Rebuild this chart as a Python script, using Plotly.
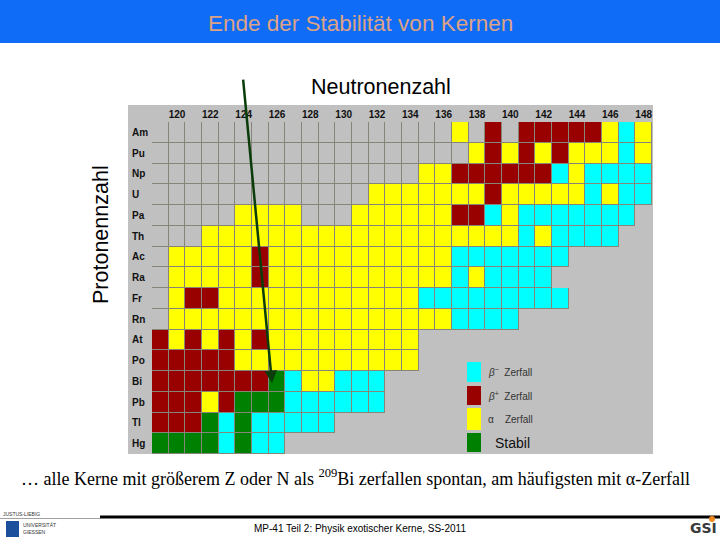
import numpy as np
import plotly.graph_objects as go

# ---------------- data ----------------
N_values = list(range(119, 149))          # neutron numbers (columns)
N_tick_vals = list(range(120, 149, 2))    # labelled neutron numbers
elements = ["Am", "Pu", "Np", "U", "Pa", "Th", "Ac", "Ra",
            "Fr", "Rn", "At", "Po", "Bi", "Pb", "Tl", "Hg"]
Z_values = list(range(95, 79, -1))        # proton numbers (rows, top -> bottom)

# decay mode per nuclide, one char per N = 119..148
# G = grey (no data), C = beta-minus, R = beta-plus, Y = alpha, S = stable, . = none
row_Am = "GGGGGGGGGGGGGGGGGGYGRGRRRRRYCY"
row_Pu = "GGGGGGGGGGGGGGGGGGGYRYRYRYYYCY"
row_Np = "GGGGGGGGGGGGGGGGYYRRRRRRCYCCCC"
row_U  = "GGGGGGGGGGGGGYYYYYYYRYYYYYCYCC"
row_Pa = "GGGGGYYYYGGGYYYYYYRRCYCCCCCCC."
row_Th = "GGGYYYYYYYYYYYYYYYYYYYCYCCCC.."
row_Ac = "GYYYYYRYYYYYYYYYYYCCCCCCC....."
row_Ra = "GYYYYYRYYYYYYYYYYYCYCCCC......"
row_Fr = "GYRRYYYYYYYYYYYYCCCCCCCCC....."
row_Rn = "GYYYYYYYYYYYYYYYYYCCCC........"
row_At = "RYRYRYRYYYYYYYYY.............."
row_Po = "RRRRRYYYYYYYYYYY.............."
row_Bi = "RRRRRRRSCYYCCC................"
row_Pb = "RRRYRSSSCCCCCC................"
row_Tl = "RRRSCSCCCCC..................."
row_Hg = "SSSSCSCC......................"

rows = [row_Am, row_Pu, row_Np, row_U, row_Pa, row_Th, row_Ac, row_Ra,
        row_Fr, row_Rn, row_At, row_Po, row_Bi, row_Pb, row_Tl, row_Hg]

mode_codes = {"G": 0, "C": 1, "R": 2, "Y": 3, "S": 4, ".": np.nan}
legend_labels = ["<i>β</i><sup>−</sup>  Zerfall", "<i>β</i><sup>+</sup>  Zerfall",
                 "α    Zerfall", "Stabil"]

# ---------------- styling ----------------
GREY = "#c0c0c0"
CYAN = "#00ffff"
RED = "#990000"
YELLOW = "#ffff00"
GREEN = "#008000"
LINE = "#85857a"

z = np.array([[mode_codes[c] for c in r] for r in rows], dtype=float)
under = np.where(np.isnan(z), np.nan, 1.0)

colorscale = [[0, GREY], [0.125, GREY], [0.125, CYAN], [0.375, CYAN],
              [0.375, RED], [0.625, RED], [0.625, YELLOW], [0.875, YELLOW],
              [0.875, GREEN], [1, GREEN]]

fig = go.Figure()
fig.add_trace(go.Heatmap(x=N_values, y=Z_values, z=under, zmin=0, zmax=1,
                         colorscale=[[0, LINE], [1, LINE]], showscale=False,
                         hoverinfo="skip"))
fig.add_trace(go.Heatmap(x=N_values, y=Z_values, z=z, zmin=0, zmax=4,
                         colorscale=colorscale, showscale=False,
                         xgap=1, ygap=1, hoverinfo="skip"))

W, H = 720, 540
L, R, T, B = 152, 68, 122, 86
PW, PH = W - L - R, H - T - B


def px(x):
    return (x - L) / PW


def py(y):
    return (H - B - y) / PH


shapes = []
# grey panel behind grid and labels
shapes.append(dict(type="rect", xref="paper", yref="paper", x0=px(128), x1=px(653),
                   y0=py(454), y1=py(105), fillcolor=GREY, line_width=0, layer="below"))
# blue title band
shapes.append(dict(type="rect", xref="paper", yref="paper", x0=px(0), x1=px(720),
                   y0=py(43), y1=py(0), fillcolor="#0f6cf7", line_width=0, layer="below"))
# footer lines
shapes.append(dict(type="line", xref="paper", yref="paper", x0=px(100), x1=px(720),
                   y0=py(517), y1=py(517), line=dict(color="black", width=3)))
shapes.append(dict(type="line", xref="paper", yref="paper", x0=px(0), x1=px(100),
                   y0=py(518.5), y1=py(518.5), line=dict(color="#a0a0a0", width=1)))
# university shield
shapes.append(dict(type="rect", xref="paper", yref="paper", x0=px(6), x1=px(19),
                   y0=py(537), y1=py(521), fillcolor="#1b4f9c", line_width=0))
# GSI dot
shapes.append(dict(type="circle", xref="paper", yref="paper", x0=px(709), x1=px(715),
                   y0=py(522), y1=py(516), fillcolor="#f08a1c", line_width=0))

# legend squares
legend_colors = [CYAN, RED, YELLOW, GREEN]
legend_boxes = [(362, 382), (386, 405), (408, 430), (433, 452)]
for col, (y0, y1) in zip(legend_colors, legend_boxes):
    shapes.append(dict(type="rect", xref="paper", yref="paper", x0=px(467), x1=px(481),
                       y0=py(y1), y1=py(y0), fillcolor=col, line_width=0))


def ann(x, y, text, size, color="black", family="Liberation Sans, Arial",
        xanchor="center", yref="paper", **kw):
    d = dict(x=x, y=y, xref="paper", yref=yref, text=text, showarrow=False,
             xanchor=xanchor, yanchor="middle",
             font=dict(family=family, size=size, color=color))
    d.update(kw)
    return d


annotations = []
# element labels
for el, zz in zip(elements, Z_values):
    annotations.append(ann(px(130), zz, "<b>" + el + "</b>", 10, "#111",
                           xanchor="left", yref="y"))
# legend labels
for i, (lab, (y0, y1)) in enumerate(zip(legend_labels, legend_boxes)):
    if i < 3:
        annotations.append(ann(px(486), py((y0 + y1) / 2), lab, 10, "#333", xanchor="left"))
    else:
        annotations.append(ann(px(493), py((y0 + y1) / 2), lab, 14, "#111", xanchor="left"))

# title & axis titles
annotations.append(ann(px(360), py(23), "Ende der Stabilität von Kernen", 22.5, "#dca287"))
annotations.append(ann(px(381), py(87), "Neutronenzahl", 21.5))
annotations.append(ann(px(101), py(235), "Protonennzahl", 21.5, textangle=-90))
# arrow to 209Bi
annotations.append(dict(x=125.7, y=82.92, xref="x", yref="y", ax=-29, ay=-305,
                        axref="pixel", ayref="pixel", text="", showarrow=True,
                        arrowhead=2, arrowsize=1, arrowwidth=2.5, arrowcolor="#0b3d0b"))
# footer text
annotations.append(ann(px(355), py(477),
                       "… alle Kerne mit größerem Z oder N als <sup>209</sup>Bi zerfallen spontan, am häufigsten mit α-Zerfall",
                       18, family="Liberation Serif, Times New Roman"))
annotations.append(ann(px(360), py(528), "MP-41 Teil 2: Physik exotischer Kerne, SS-2011", 10))
# logos (approximated as text)
annotations.append(ann(px(1), py(514), "JUSTUS-LIEBIG", 5, "#333", xanchor="left"))
annotations.append(ann(px(21), py(528), "UNIVERSITÄT<br>GIESSEN", 5, "#333",
                       xanchor="left", align="left"))
annotations.append(ann(px(719), py(528), "<b>GSI</b>", 14, "#3a3a3a",
                       family="DejaVu Sans", xanchor="right"))

fig.update_layout(
    width=W, height=H,
    margin=dict(l=L, r=R, t=T, b=B, pad=0),
    paper_bgcolor="white", plot_bgcolor=GREY,
    shapes=shapes, annotations=annotations, showlegend=False,
    xaxis=dict(range=[118.5, 148.5], side="top", tickvals=N_tick_vals,
               ticktext=["<b>%d</b>" % n for n in N_tick_vals],
               tickfont=dict(family="Liberation Sans, Arial", size=10, color="#111"),
               ticks="", showgrid=False, zeroline=False, showline=False,
               ticklabelstandoff=1, fixedrange=True),
    yaxis=dict(range=[79.5, 95.5], showticklabels=False, ticks="", showgrid=False,
               zeroline=False, showline=False, fixedrange=True),
)

fig.write_html("out.html", config={"displayModeBar": False},
               post_script="document.body.style.margin='0';document.body.style.overflow='hidden';")
